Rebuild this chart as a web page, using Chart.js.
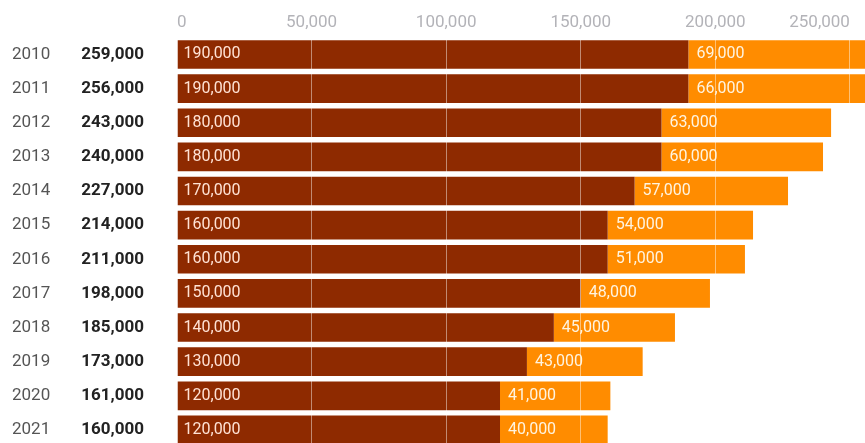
<!DOCTYPE html>
<html>
<head>
<meta charset="utf-8">
<script src="https://cdn.jsdelivr.net/npm/chart.js@4"></script>
<style>
  html, body { margin: 0; padding: 0; background: #fff; overflow: hidden; }
  #wrap { width: 865px; height: 447px; }
</style>
</head>
<body>
<div id="wrap"><canvas id="chart"></canvas></div>
<script>
const years = ['2010', '2011', '2012', '2013', '2014', '2015', '2016', '2017', '2018', '2019', '2020', '2021'];
const baseValues = [190000, 190000, 180000, 180000, 170000, 160000, 160000, 150000, 140000, 130000, 120000, 120000];
const extraValues = [69000, 66000, 63000, 60000, 57000, 54000, 51000, 48000, 45000, 43000, 41000, 40000];
const xTicks = [0, 50000, 100000, 150000, 200000, 250000];

const fmt = v => v.toLocaleString('en-US');
const font = 'Roboto';

// year + total columns on the left, value labels at the start of each segment
const rowLabels = {
  id: 'rowLabels',
  afterDraw(chart) {
    const ctx = chart.ctx;
    const y = chart.scales.y;
    ctx.save();
    ctx.textBaseline = 'middle';
    years.forEach((yr, i) => {
      const py = y.getPixelForValue(i);
      ctx.font = '17px ' + font;
      ctx.fillStyle = '#555';
      ctx.textAlign = 'left';
      ctx.fillText(yr, 12, py);
      ctx.font = 'bold 17px ' + font;
      ctx.fillStyle = '#222';
      ctx.textAlign = 'right';
      ctx.fillText(fmt(baseValues[i] + extraValues[i]), 144, py);
    });
    ctx.font = '16px ' + font;
    ctx.textAlign = 'left';
    chart.data.datasets.forEach((ds, d) => {
      const meta = chart.getDatasetMeta(d);
      meta.data.forEach((bar, i) => {
        ctx.fillStyle = d === 0 ? '#ffe2d4' : '#fff4e0';
        ctx.fillText(fmt(ds.data[i]), Math.min(bar.base, bar.x) + (d === 0 ? 6 : 8), bar.y);
      });
    });
    ctx.restore();
  }
};

new Chart(document.getElementById('chart'), {
  type: 'bar',
  data: {
    labels: years,
    datasets: [
      { data: baseValues, backgroundColor: '#8e2a00', barPercentage: 0.84, categoryPercentage: 1 },
      { data: extraValues, backgroundColor: '#ff8c00', barPercentage: 0.84, categoryPercentage: 1 }
    ]
  },
  options: {
    indexAxis: 'y',
    responsive: true,
    maintainAspectRatio: false,
    animation: false,
    layout: { padding: { left: 177, top: 9, right: 0, bottom: 0 } },
    scales: {
      x: {
        position: 'top',
        stacked: true,
        min: 0,
        max: 255600,
        border: { display: false },
        // white grid drawn over the bars
        grid: { color: 'rgba(255,255,255,0.45)', drawTicks: false, z: 1 },
        afterBuildTicks: axis => { axis.ticks = xTicks.map(v => ({ value: v })); },
        ticks: {
          align: 'inner',
          padding: 4,
          color: '#b3b3b8',
          font: { family: font, size: 17 },
          callback: v => fmt(v)
        }
      },
      y: { display: false, stacked: true }
    },
    plugins: {
      legend: { display: false },
      tooltip: { enabled: false }
    }
  },
  plugins: [rowLabels]
});
</script>
</body>
</html>
